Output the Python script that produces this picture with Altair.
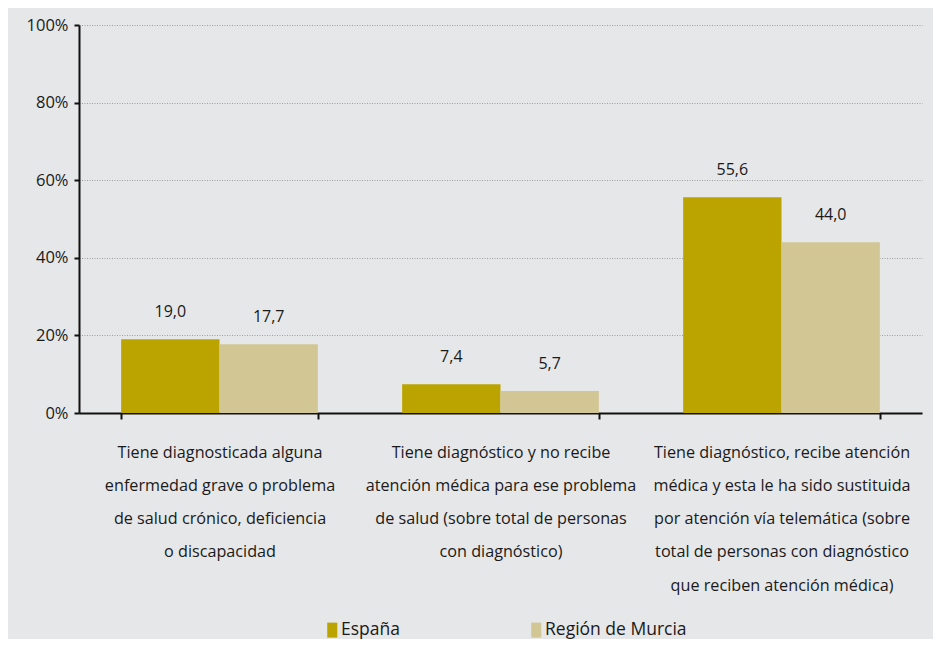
import altair as alt
import pandas as pd

categories = [
    "Tiene diagnosticada alguna|enfermedad grave o problema|de salud crónico, deficiencia|o discapacidad",
    "Tiene diagnóstico y no recibe|atención médica para ese problema|de salud (sobre total de personas|con diagnóstico)",
    "Tiene diagnóstico, recibe atención|médica y esta le ha sido sustituida|por atención vía telemática (sobre|total de personas con diagnóstico|que reciben atención médica)",
]
series = ["España", "Región de Murcia"]
espana = [19.0, 7.4, 55.6]
murcia = [17.7, 5.7, 44.0]
colors = ["#bba400", "#d2c694"]

rows = []
for i, c in enumerate(categories):
    rows.append({"cat": c, "serie": series[0], "valor": espana[i]})
    rows.append({"cat": c, "serie": series[1], "valor": murcia[i]})
df = pd.DataFrame(rows)

FONT = "Open Sans"
TXT = "#1a1a1a"

x = alt.X(
    "cat:N",
    sort=categories,
    title=None,
    scale=alt.Scale(paddingInner=0.3, paddingOuter=0.15),
    axis=alt.Axis(
        labelExpr="split(datum.label, '|')",
        labelAngle=0,
        labelLimit=0,
        labelFontSize=16.2,
        labelFont=FONT,
        labelColor=TXT,
        labelLineHeight=33.3,
        labelPadding=25,
        labelBaseline="top",
        tickBand="extent",
        tickSize=6,
        tickWidth=2,
        tickColor="#111111",
        domainColor="#111111",
        domainWidth=2,
        grid=False,
    ),
)

y = alt.Y(
    "valor:Q",
    title=None,
    scale=alt.Scale(domain=[0, 100]),
    axis=alt.Axis(
        values=[0, 20, 40, 60, 80, 100],
        labelExpr="datum.value + '%'",
        labelFontSize=16.5,
        labelFont=FONT,
        labelColor=TXT,
        tickSize=5,
        tickWidth=2,
        tickColor="#111111",
        domainColor="#111111",
        domainWidth=2,
        labelPadding=6,
        grid=True,
        gridColor="#9e9e9e",
        gridDash=[1, 1.5],
        gridWidth=1,
    ),
)

color = alt.Color(
    "serie:N",
    sort=series,
    scale=alt.Scale(domain=series, range=colors),
    legend=alt.Legend(
        title=None,
        orient="none",
        direction="horizontal",
        legendX=244.5,
        legendY=596,
        padding=0,
        columnPadding=127,
        labelFontSize=17.5,
        labelFont=FONT,
        labelColor=TXT,
        labelOffset=0,
        symbolType="M-0.67,-1h1.34v2h-1.34z",
        symbolSize=225,
        symbolStrokeWidth=0,
        symbolOpacity=1,
    ),
)

base = alt.Chart(df).encode(
    x=x,
    xOffset=alt.XOffset("serie:N", sort=series, scale=alt.Scale(paddingInner=0, paddingOuter=0)),
)

bars = base.mark_bar().encode(y=y, color=color)

text = base.transform_calculate(
    etiqueta="replace(format(datum.valor, '.1f'), '.', ',')"
).mark_text(dy=-27, fontSize=16, font=FONT, color=TXT, baseline="middle").encode(
    y=alt.Y("valor:Q"),
    text="etiqueta:N",
)

chart = (
    alt.layer(bars, text)
    .properties(
        width=843,
        height=388,
        background="#e6e7e9",
        padding={"left": 71, "top": 17, "right": 11, "bottom": 226},
        autosize=alt.AutoSizeParams(type="none"),
    )
    .configure_view(stroke=None)
)

chart.save("out.html", embed_options={"renderer": "svg", "actions": False})
